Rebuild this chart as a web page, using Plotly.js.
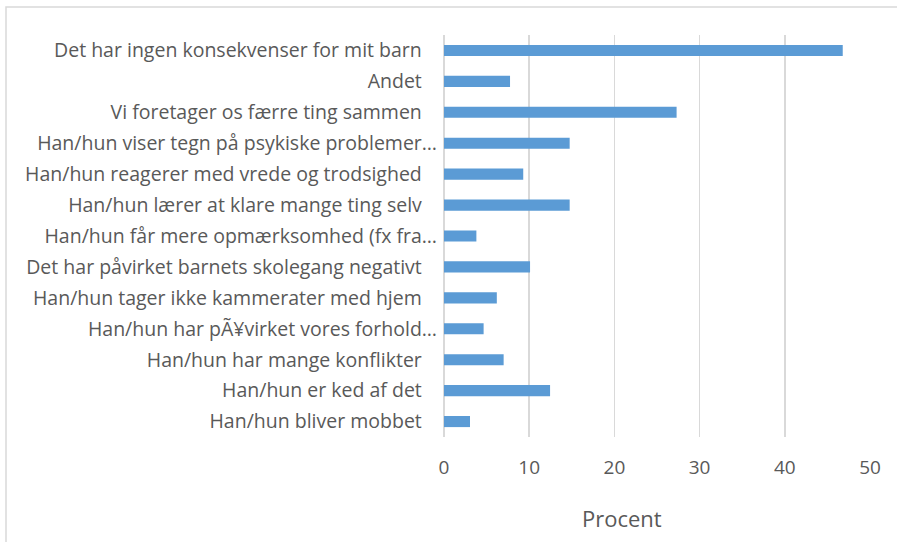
<!DOCTYPE html>
<html>
<head>
<meta charset="utf-8">
<script src="https://cdn.plot.ly/plotly-3.0.1.min.js"></script>
<style>html,body{margin:0;padding:0;background:#fff;}#chart{width:897px;height:542px;}</style>
</head>
<body>
<div id="chart"></div>
<script>
const categories = [
  "Det har ingen konsekvenser for mit barn",
  "Andet",
  "Vi foretager os færre ting sammen",
  "Han/hun viser tegn på psykiske problemer…",
  "Han/hun reagerer med vrede og trodsighed",
  "Han/hun lærer at klare mange ting selv",
  "Han/hun får mere opmærksomhed (fx fra…",
  "Det har påvirket barnets skolegang negativt",
  "Han/hun tager ikke kammerater med hjem",
  "Han/hun har pÃ¥virket vores forhold…",
  "Han/hun har mange konflikter",
  "Han/hun er ked af det",
  "Han/hun bliver mobbet"
];
const values = [46.8, 7.75, 27.3, 14.75, 9.3, 14.75, 3.8, 10.1, 6.2, 4.65, 7.0, 12.45, 3.05];
const xTicks = [0, 10, 20, 30, 40, 50];
const xTitle = "Procent";

const tickText = categories.map(c => c.endsWith("…") ? c : c + "\u00a0\u00a0\u00a0");

const trace = {
  type: "bar",
  orientation: "h",
  y: categories,
  x: values,
  marker: {color: "#5b9bd5"},
  hoverinfo: "x+y"
};

const layout = {
  width: 897, height: 542,
  paper_bgcolor: "#ffffff", plot_bgcolor: "#ffffff",
  margin: {l: 444, r: 27, t: 35, b: 105},
  bargap: 0.64,
  showlegend: false,
  font: {family: "Open Sans, sans-serif", color: "#595959"},
  xaxis: {
    range: [0, 50],
    tickvals: xTicks,
    ticktext: xTicks.map(String),
    showgrid: true, gridcolor: "#d9d9d9", gridwidth: 1.5,
    zeroline: true, zerolinecolor: "#d9d9d9", zerolinewidth: 1.5,
    showline: false, ticks: "",
    tickfont: {size: 19, color: "#595959"},
    ticklabelstandoff: 17,
    fixedrange: true
  },
  yaxis: {
    autorange: "reversed",
    tickmode: "array",
    tickvals: categories,
    ticktext: tickText,
    showgrid: false, zeroline: false, showline: false, ticks: "",
    tickfont: {size: 19.5, color: "#595959"},
    ticklabelstandoff: 6,
    fixedrange: true
  },
  annotations: [{
    text: xTitle, xref: "paper", yref: "paper",
    x: 0.417, y: -0.2015, xanchor: "center", yanchor: "middle",
    showarrow: false, font: {size: 22, color: "#595959"}
  }],
  shapes: [{
    type: "rect", xref: "paper", yref: "paper",
    x0: (6 - 444) / 426, x1: 1 + 60 / 426, y0: -0.5, y1: 1 + 28 / 402,
    line: {color: "#d9d9d9", width: 1.5}
  }]
};

Plotly.newPlot("chart", [trace], layout, {displayModeBar: false, staticPlot: true});
</script>
</body>
</html>
